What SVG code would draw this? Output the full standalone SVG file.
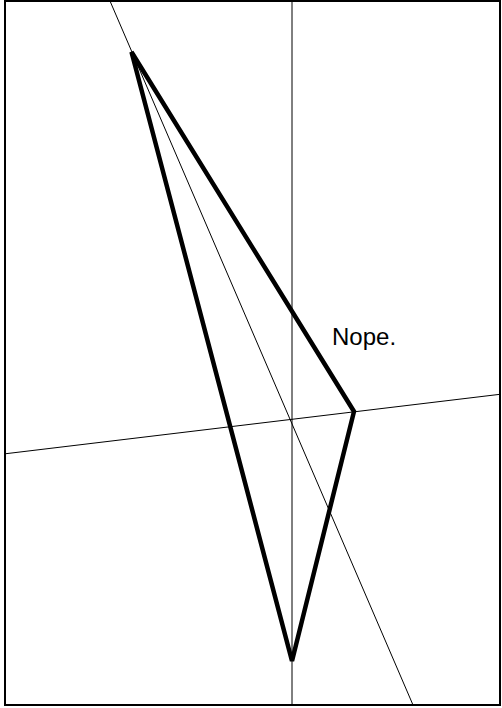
<svg xmlns="http://www.w3.org/2000/svg" width="502" height="708" viewBox="0 0 502 708">
<style>
.thin{stroke:#000;stroke-width:1;fill:none}
.tri{stroke:#000;stroke-width:4.5;fill:none}
.lbl{font-family:"Liberation Sans",Arial,sans-serif;font-size:24px;fill:#000}
</style>
<rect x="0" y="0" width="502" height="708" fill="#fff"/>
<g id="frame"><rect x="5" y="1" width="495" height="704" fill="none" stroke="#000" stroke-width="2"/></g>
<g id="axes">
<line class="thin" x1="292" y1="1" x2="292" y2="705"/>
<line class="thin" x1="5" y1="453.8" x2="500" y2="394.3"/>
<line class="thin" x1="110" y1="1" x2="413" y2="705"/>
</g>
<g id="triangle"><polygon class="tri" points="131.5,52 354,411.5 292,661"/></g>
<g id="label"><text class="lbl" x="332" y="345">Nope.</text></g>
</svg>
